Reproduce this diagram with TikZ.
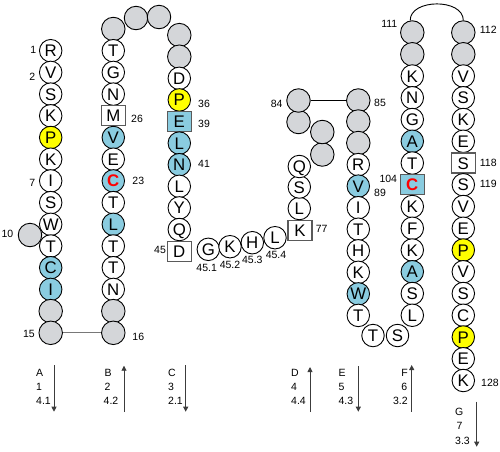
\documentclass[tikz,border=0pt]{standalone}
\usepackage{fontspec}
\setmainfont{Liberation Sans}
\usetikzlibrary{arrows.meta}
\definecolor{resgrey}{RGB}{212,214,217}
\definecolor{resblue}{RGB}{138,204,224}
\definecolor{resyel}{RGB}{255,255,0}
\definecolor{boxline}{RGB}{90,90,90}
\definecolor{linkgrey}{RGB}{120,120,120}
\definecolor{arrowgrey}{RGB}{60,60,60}
\begin{document}
\begin{tikzpicture}[x=1pt,y=-1pt,
 res/.style={circle,draw=black,line width=0.9pt,fill=white,minimum size=22.5pt,inner sep=0pt,
   font=\fontsize{16.8}{17}\selectfont,text height=12pt,text depth=0pt},
 gres/.style={res,fill=resgrey,minimum size=23.5pt},
 bres/.style={res,fill=resblue},
 yres/.style={res,fill=resyel},
 bxres/.style={res,rectangle,draw=boxline,line width=1.1pt,minimum width=24pt,minimum height=20pt},
 bxbres/.style={bxres,fill=resblue},
 cys/.style={text=red,font=\fontsize{16.8}{17}\selectfont\bfseries},
 num/.style={font=\fontsize{10.5}{12}\selectfont,inner sep=0pt},
 seg/.style={font=\fontsize{10.5}{12}\selectfont,inner sep=0pt,anchor=base west},
 segr/.style={seg,anchor=base east},
 dir/.style={draw=arrowgrey,line width=0.9pt,-{Triangle[length=5pt,width=5pt]}},
 link/.style={draw=linkgrey,line width=1.1pt},
 loopline/.style={draw=black,line width=0.9pt}
]
\useasboundingbox (0,0) rectangle (500,451);

% ---------- column 1 ----------
\node[res] (a0) at (50.7,50.7) {R};
\node[res] (a1) at (50.7,72.4) {V};
\node[res] (a2) at (50.7,94.1) {S};
\node[res] (a3) at (50.7,115.8) {K};
\node[yres] (a4) at (50.7,137.5) {P};
\node[res] (a5) at (50.7,159.2) {K};
\node[res] (a6) at (50.7,180.9) {I};
\node[res] (a7) at (50.7,202.6) {S};
\node[gres] (a10) at (30,235) {};
\node[res] (a8) at (50.7,224.3) {W};
\node[res] (a9) at (50.7,246.0) {T};
\node[bres] (a11) at (50.7,267.7) {C};
\node[bres] (a12) at (50.7,289.4) {I};
\node[gres] (a13) at (50.7,311.1) {};
\node[gres] (a15) at (50.7,332.8) {};

% ---------- column 2 ----------
\node[gres] (b0) at (113.3,29.0) {};
\node[res] (b1) at (113.3,50.7) {T};
\node[res] (b2) at (113.3,72.4) {G};
\node[res] (b3) at (113.3,94.1) {N};
\node[bxres] (b4) at (113.3,115.8) {M};
\node[bres] (b5) at (113.3,137.5) {V};
\node[res] (b6) at (113.3,159.2) {E};
\node[bres,cys] (b7) at (113.3,180.9) {C};
\node[res] (b8) at (113.3,202.6) {T};
\node[bres] (b9) at (113.3,224.3) {L};
\node[res] (b10) at (113.3,246.0) {T};
\node[res] (b11) at (113.3,267.7) {T};
\node[res] (b12) at (113.3,289.4) {N};
\node[gres] (b13) at (113.3,311.1) {};
\node[gres] (b14) at (113.3,332.8) {};

% ---------- top loop 2-3 ----------
\node[gres] (t1) at (136,18) {};
\node[gres] (t2) at (159,17) {};

% ---------- column 3 ----------
\node[gres] (c0) at (179.3,35.1) {};
\node[gres] (c1) at (179.3,56.7) {};
\node[res] (c2) at (179.3,78.3) {D};
\node[yres] (c3) at (179.3,99.9) {P};
\node[bxbres] (c4) at (179.3,121.5) {E};
\node[bres] (c5) at (179.3,143.1) {L};
\node[bres] (c6) at (179.3,164.7) {N};
\node[res] (c7) at (179.3,186.3) {L};
\node[res] (c8) at (179.3,207.9) {Y};
\node[res] (c9) at (179.3,229.5) {Q};
\node[bxres] (c10) at (179.3,251.1) {D};

% ---------- bottom loop 3-4 ----------
\node[res] (l1) at (208.3,249.3) {G};
\node[res] (l2) at (230,246.7) {K};
\node[res] (l3) at (252.3,242.7) {H};
\node[res] (l4) at (275,237.7) {L};
\node[bxres] (k77) at (300,230.5) {K};

% ---------- column 4 ----------
\node[res] (d1) at (299.3,208.5) {L};
\node[res] (d2) at (299.3,187) {S};
\node[res] (d3) at (299.3,166.5) {Q};
\node[gres] (e1) at (322.3,154.5) {};
\node[gres] (e2) at (322.3,132) {};
\node[gres] (e3) at (298.5,122) {};
\node[gres] (e4) at (298.5,100.5) {};

% ---------- column 5 ----------
\node[gres] (f0) at (358.3,100.5) {};
\node[gres] (f1) at (358.3,121.5) {};
\node[gres] (f2) at (358.3,143) {};
\node[res] (f3) at (358.3,164.6) {R};
\node[bres] (f4) at (358.3,186.1) {V};
\node[res] (f5) at (358.3,207.7) {I};
\node[res] (f6) at (358.3,229.2) {T};
\node[res] (f7) at (358.3,250.8) {H};
\node[res] (f8) at (358.3,272.3) {K};
\node[bres] (f9) at (358.3,293.9) {W};
\node[res] (f10) at (358.3,315.4) {T};

% ---------- bottom loop 5-6 ----------
\node[res] (u1) at (373,335.5) {T};
\node[res] (u2) at (397.5,335.5) {S};

% ---------- column 6 ----------
\node[gres] (h0) at (412.3,32.5) {};
\node[gres] (h1) at (412.3,54.25) {};
\node[res] (h2) at (412.3,76) {K};
\node[res] (h3) at (412.3,97.75) {N};
\node[res] (h4) at (412.3,119.5) {G};
\node[bres] (h5) at (412.3,141.25) {A};
\node[res] (h6) at (412.3,163) {T};
\node[bxbres,cys] (h7) at (412.3,184.75) {C};
\node[res] (h8) at (412.3,206.5) {K};
\node[res] (h9) at (412.3,228.25) {F};
\node[res] (h10) at (412.3,250) {K};
\node[bres] (h11) at (412.3,271.75) {A};
\node[res] (h12) at (412.3,293.5) {S};
\node[res] (h13) at (412.3,315.25) {L};

% ---------- column 7 ----------
\node[gres] (m0) at (463.3,32.5) {};
\node[gres] (m1) at (463.3,54.25) {};
\node[res] (m2) at (463.3,76) {V};
\node[res] (m3) at (463.3,97.75) {S};
\node[res] (m4) at (463.3,119.5) {K};
\node[res] (m5) at (463.3,141.25) {E};
\node[bxres] (m6) at (463.3,163) {S};
\node[res] (m7) at (463.3,184.75) {S};
\node[res] (m8) at (463.3,206.5) {V};
\node[res] (m9) at (463.3,228.25) {E};
\node[yres] (m10) at (463.3,250) {P};
\node[res] (m11) at (463.3,271.75) {V};
\node[res] (m12) at (463.3,293.5) {S};
\node[res] (m13) at (463.3,315.25) {C};
\node[yres] (m14) at (463.3,337) {P};
\node[res] (m15) at (463.3,358.75) {E};
\node[res] (m16) at (463.3,380.5) {K};

% ---------- connectors ----------
\draw[link] (a15) -- (b14);
\draw[loopline] (e4) -- (f0);
\draw[loopline] (h0.100) .. controls +(0,-22) and +(0,-22) .. (m0.north);

% ---------- residue numbers ----------
\node[num] (n1) at (33.3,50) {1};
\node[num] (n2) at (32.3,77) {2};
\node[num] (n7) at (32.3,183) {7};
\node[num] (n10) at (7.5,234) {10};
\node[num] (n15) at (29,334) {15};
\node[num] (n16) at (138.3,337) {16};
\node[num] (n26) at (137,119.3) {26};
\node[num] (n23) at (138.3,180.7) {23};
\node[num] (n36) at (204,104) {36};
\node[num] (n39) at (204,124) {39};
\node[num] (n41) at (204,164) {41};
\node[num] (n45) at (160,250) {45};
\node[num] (n451) at (206.7,268.3) {45.1};
\node[num] (n452) at (230,265) {45.2};
\node[num] (n453) at (252.3,260) {45.3};
\node[num] (n454) at (276,255) {45.4};
\node[num] (n77) at (321.7,229.3) {77};
\node[num] (n84) at (276.7,104.3) {84};
\node[num] (n85) at (380,103.3) {85};
\node[num] (n89) at (380,192.7) {89};
\node[num] (n104) at (388.3,179.3) {104};
\node[num] (n111) at (389.3,24) {111};
\node[num] (n112) at (488.3,30) {112};
\node[num] (n118) at (488.3,163.3) {118};
\node[num] (n119) at (488.3,184) {119};
\node[num] (n128) at (490,383.3) {128};

% ---------- segment legends ----------
\node[seg] (sA1) at (36,376.3) {A};
\node[seg] (sA2) at (36,390.3) {1};
\node[seg] (sA3) at (36,404.3) {4.1};
\coordinate (aA1) at (54,365);
\coordinate (aA2) at (54,411.7);
\draw[dir] (aA1) -- (aA2);

\node[seg] (sB1) at (104.5,376.3) {B};
\node[seg] (sB2) at (104.5,390.3) {2};
\node[seg] (sB3) at (103.5,404.3) {4.2};
\coordinate (aB1) at (124,412);
\coordinate (aB2) at (124,365.7);
\draw[dir] (aB1) -- (aB2);

\node[seg] (sC1) at (168,376.3) {C};
\node[seg] (sC2) at (168,390.3) {3};
\node[seg] (sC3) at (168,404.3) {2.1};
\coordinate (aC1) at (185.7,365);
\coordinate (aC2) at (185.7,411.7);
\draw[dir] (aC1) -- (aC2);

\node[seg] (sD1) at (291,376.3) {D};
\node[seg] (sD2) at (291,390.3) {4};
\node[seg] (sD3) at (291,404.3) {4.4};
\coordinate (aD1) at (310,412);
\coordinate (aD2) at (310,367);
\draw[dir] (aD1) -- (aD2);

\node[seg] (sE1) at (338.3,376.3) {E};
\node[seg] (sE2) at (338.3,390.3) {5};
\node[seg] (sE3) at (338.3,404.3) {4.3};
\coordinate (aE1) at (358.3,366);
\coordinate (aE2) at (358.3,411.7);
\draw[dir] (aE1) -- (aE2);

\node[segr] (sF1) at (408,376.3) {F};
\node[segr] (sF2) at (407.5,390.3) {6};
\node[segr] (sF3) at (407.8,404.3) {3.2};
\coordinate (aF1) at (411.7,411.7);
\coordinate (aF2) at (411.7,365);
\draw[dir] (aF1) -- (aF2);

\node[seg] (sG1) at (455,415.3) {G};
\node[seg] (sG2) at (456.5,429.6) {7};
\node[seg] (sG3) at (455,444.3) {3.3};
\coordinate (aG1) at (476.7,401.7);
\coordinate (aG2) at (476.7,446.7);
\draw[dir] (aG1) -- (aG2);
\end{tikzpicture}
\end{document}
